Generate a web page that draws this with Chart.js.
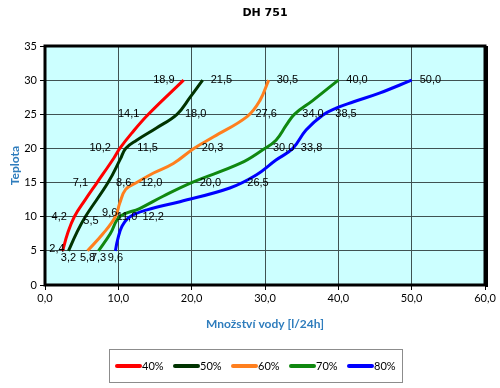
<!DOCTYPE html>
<html>
<head>
<meta charset="utf-8">
<script src="https://cdn.jsdelivr.net/npm/chart.js@4"></script>
<style>
  html, body { margin: 0; padding: 0; background: #fff; }
  #wrap { width: 500px; height: 388px; }
</style>
</head>
<body>
<div id="wrap"><canvas id="chart" width="500" height="388"></canvas></div>
<script>
// series names + colours
const seriesNames = ['40%', '50%', '60%', '70%', '80%'];
const seriesColors = ['#ff0000', '#003300', '#ff7f1e', '#108810', '#0000ff'];

// traced curves (water [l/24h] vs temperature)
const water40 = [2.4, 3.1, 4.0, 5.5, 7.1, 9.4, 10.2, 11.8, 14.1, 18.9];
const temp40  = [5, 7.6, 10, 12.5, 15, 18.6, 20, 22.2, 25, 30];
const water50 = [3.2, 4.3, 5.5, 8.6, 10.3, 11.0, 12.5, 15.2, 18.0, 19.8, 21.5];
const temp50  = [5, 7.6, 10, 15, 18.5, 20, 21.2, 23, 25, 27.5, 30];
const water60 = [5.8, 7.9, 9.6, 10.2, 11.0, 12.5, 14.8, 17.5, 20.3, 23.0, 27.6, 29.3, 30.5];
const temp60  = [5, 7.5, 10, 12, 14, 15, 16.4, 17.8, 20, 21.7, 24.7, 27, 30];
const water70 = [7.3, 8.9, 10.2, 12.9, 16.1, 20.0, 26.6, 29.7, 31.5, 32.9, 34.0, 36.5, 40.0];
const temp70  = [5, 7.5, 10, 11.2, 13, 15, 17.8, 19.8, 21.2, 23.4, 25, 27, 30];
const water80 = [9.6, 9.9, 10.5, 11.6, 13.9, 18.4, 25.2, 28.8, 31.5, 33.8, 35.6, 37.9, 39.7, 42.0, 45.6, 50.0];
const temp80  = [5, 6.6, 8.6, 10, 11, 12.2, 14.2, 16.1, 18.3, 20, 22.7, 24.9, 25.9, 26.8, 28.1, 30];

// values printed next to the curves
const labelTemps = [5, 10, 15, 20, 25, 30];
const label40 = [2.4, 4.2, 7.1, 10.2, 14.1, 18.9];
const label50 = [3.2, 5.5, 8.6, 11.5, 18.0, 21.5];
const label60 = [5.8, 9.6, 12.0, 20.3, 27.6, 30.5];
const label70 = [7.3, 11.0, 20.0, 30.0, 34.0, 40.0];
const label80 = [9.6, 12.2, 26.5, 33.8, 38.5, 50.0];

const curves = [[water40, temp40], [water50, temp50], [water60, temp60], [water70, temp70], [water80, temp80]];
const labelSets = [label40, label50, label60, label70, label80];

const fmt = v => v.toFixed(1).replace('.', ',');

const datasets = curves.map(([xs, ys], i) => ({
  label: seriesNames[i],
  data: xs.map((x, j) => ({ x: x, y: ys[j] })),
  borderColor: seriesColors[i],
  borderWidth: 3,
  pointRadius: 0,
  fill: false,
  tension: 0.4
}));

// where each value label sits relative to its point
function labelPlace(s, t) {
  if (s === 0) return t === 0 ? { dx: 2, dy: -2, align: 'right' } : { dx: -9, dy: 0, align: 'right' };
  if (t === 0) return { dx: 0, dy: 7, align: 'center' };
  if (s === 1 && t === 1) return { dx: -2, dy: 4, align: 'left' };
  if (s === 2 && t === 1) return { dx: 2, dy: -4, align: 'right' };
  if (s === 3 && t === 1) return { dx: -9, dy: 0, align: 'left' };
  return { dx: 8, dy: 0, align: 'left' };
}

const decor = {
  id: 'decor',
  beforeDraw(chart) {
    const { ctx, chartArea: a } = chart;
    ctx.save();
    ctx.fillStyle = '#ccffff';
    ctx.fillRect(a.left, a.top, a.right - a.left, a.bottom - a.top);
    ctx.restore();
  },
  afterDatasetsDraw(chart) {
    const { ctx } = chart;
    const xs = chart.scales.x, ys = chart.scales.y;
    ctx.save();
    ctx.font = '11px "Liberation Sans"';
    ctx.fillStyle = '#000';
    ctx.textBaseline = 'middle';
    labelSets.forEach((vals, s) => {
      vals.forEach((v, t) => {
        const p = labelPlace(s, t);
        ctx.textAlign = p.align;
        ctx.fillText(fmt(v), xs.getPixelForValue(v) + p.dx, ys.getPixelForValue(labelTemps[t]) + p.dy);
      });
    });
    ctx.restore();
  },
  afterDraw(chart) {
    const { ctx, chartArea: a } = chart;
    ctx.save();
    // frame
    ctx.strokeStyle = '#000';
    ctx.lineWidth = 3;
    ctx.strokeRect(a.left, a.top, a.right - a.left, a.bottom - a.top);
    ctx.fillStyle = '#000';
    ctx.fillRect(a.right + 1, a.top, 2, a.bottom - a.top + 2);
    // title
    ctx.font = 'bold 11px "DejaVu Sans"';
    ctx.textAlign = 'center';
    ctx.textBaseline = 'middle';
    ctx.fillText('DH 751', (a.left + a.right) / 2, 13);
    // legend
    ctx.strokeStyle = '#8c8c8c';
    ctx.lineWidth = 1;
    ctx.strokeRect(109.5, 349.5, 293, 33);
    ctx.font = '11px Lato';
    ctx.textAlign = 'left';
    ctx.lineCap = 'round';
    seriesNames.forEach((name, i) => {
      const x0 = 117 + i * 58;
      ctx.strokeStyle = seriesColors[i];
      ctx.lineWidth = 4;
      ctx.beginPath();
      ctx.moveTo(x0, 366);
      ctx.lineTo(x0 + 23, 366);
      ctx.stroke();
      ctx.fillStyle = '#000';
      ctx.fillText(name, x0 + 25, 366);
    });
    ctx.restore();
  }
};

new Chart(document.getElementById('chart'), {
  type: 'line',
  data: { datasets: datasets },
  options: {
    responsive: false,
    animation: false,
    layout: { padding: { top: 46, right: 15, bottom: 57, left: 0 } },
    plugins: { legend: { display: false }, title: { display: false }, tooltip: { enabled: false } },
    scales: {
      x: {
        type: 'linear', min: 0, max: 60,
        afterFit: s => { s.height = 46; },
        ticks: { stepSize: 10, color: '#000', font: { family: 'Lato', size: 11 }, padding: 2, callback: v => fmt(v) },
        grid: { color: '#3f5252', tickColor: '#000', tickLength: 5 },
        border: { display: false },
        title: { display: true, text: 'Množství vody [l/24h]', color: '#2f7dbd', font: { family: 'Lato', size: 12, weight: 'bold' }, padding: { top: 0, bottom: 0 } }
      },
      y: {
        min: 0, max: 35,
        afterFit: s => { s.width = 45; },
        ticks: { stepSize: 5, color: '#000', font: { family: 'Lato', size: 11 }, padding: 3 },
        grid: { color: '#3f5252', tickColor: '#000', tickLength: 5 },
        border: { display: false },
        title: { display: true, text: 'Teplota', color: '#2f7dbd', font: { family: 'Lato', size: 12, weight: 'bold' }, padding: { top: 8, bottom: 0 } }
      }
    }
  },
  plugins: [decor]
});
</script>
</body>
</html>
